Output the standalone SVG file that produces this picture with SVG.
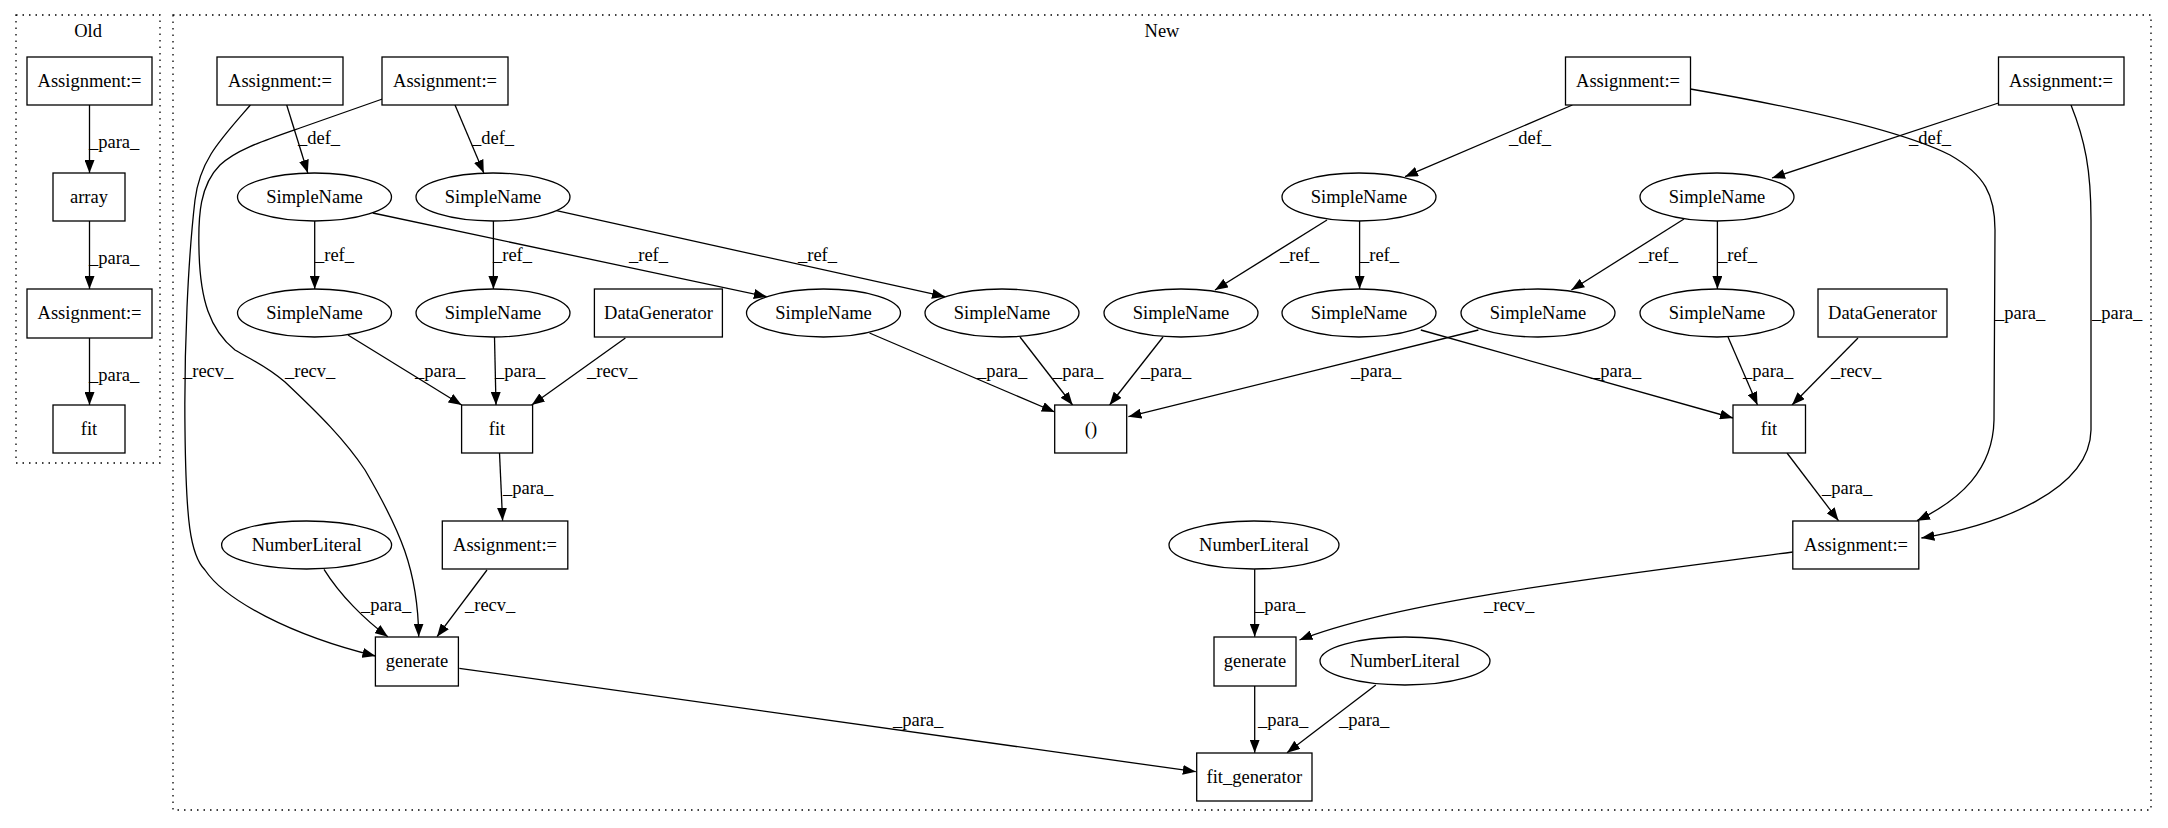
<svg xmlns="http://www.w3.org/2000/svg" width="2168" height="828" viewBox="0 0 2168 828">
<defs>
<marker id="ah" viewBox="0 0 13 10" refX="13" refY="5" markerWidth="13" markerHeight="10" markerUnits="userSpaceOnUse" orient="auto">
<path d="M0,0 L13,5 L0,10 z" fill="#000"/>
</marker>
<style>
.cl{fill:none;stroke:#000;stroke-width:1.3;stroke-dasharray:1.5,5}
.n rect,.n ellipse{fill:#fff;stroke:#000;stroke-width:1.3}
text{font-family:"Liberation Serif","Times New Roman",serif;font-size:18.5px;fill:#000}
.n text{text-anchor:middle}
#edges path{fill:none;stroke:#000;stroke-width:1.3;marker-end:url(#ah)}
</style>
</defs>
<rect width="2168" height="828" fill="#fff"/>
<g id="cluster_old"><rect class="cl" x="16" y="15" width="144" height="448"/><text x="88" y="37" text-anchor="middle">Old</text></g>
<g id="cluster_new"><rect class="cl" x="173" y="15" width="1978" height="795"/><text x="1162" y="37" text-anchor="middle">New</text></g>
<g id="edges">
<path d="M89.5,105 L89.5,173"/>
<path d="M89.5,221 L89.5,289"/>
<path d="M89.5,338 L89.5,405"/>
<path d="M286.7,105 L307.8,173"/>
<path d="M455,105 L483.8,173"/>
<path d="M314.7,221 L314.7,289"/>
<path d="M493.4,221 L493.4,289"/>
<path d="M372.8,213 L766.8,296.7"/>
<path d="M556.5,210.7 L945,296.7"/>
<path d="M348,335 L461.6,405"/>
<path d="M494.5,337 L496,405"/>
<path d="M625.4,338 L531.7,405"/>
<path d="M499.5,453 L502.6,520.7"/>
<path d="M324,569.3 C340,595 365,620 387.9,636.7"/>
<path d="M487,570 L437,636.7"/>
<path d="M250.4,105 C220,140 200,160 195,200 C188,260 184,350 185,430 C186,520 190,555 205,570 C225,600 290,635 375.4,656"/>
<path d="M382.4,99 L300,128 C260,142 236,150 220,165 C200,185 198,215 199,250 C200,300 210,330 235,350 C255,362 265,365 285,382 C320,415 345,440 365,470 C400,530 418,570 418.7,636.7"/>
<path d="M459.3,668.3 L1195.8,771.7"/>
<path d="M869.5,333 L1054.7,412"/>
<path d="M1020,337 L1072.6,405"/>
<path d="M1163,337 L1109.6,405"/>
<path d="M1478.4,330 L1128.4,416.7"/>
<path d="M1572.4,105 L1405,176.7"/>
<path d="M1327,220 L1215,290"/>
<path d="M1359.6,221 L1359.6,289"/>
<path d="M1998.5,103 L1772,178"/>
<path d="M1684,219 L1571.4,290"/>
<path d="M1717.4,221 L1717.4,289"/>
<path d="M1420.8,330 L1733,418"/>
<path d="M1728,337 L1757.5,405"/>
<path d="M1858,338 L1792,405"/>
<path d="M1787,453 L1838.5,520.7"/>
<path d="M1690.4,89 C1800,108 1900,130 1950,155 C1985,175 1995,195 1995,230 L1994,420 C1993,470 1960,500 1917,520.7"/>
<path d="M2071,105 C2085,140 2091,170 2091,220 L2091,430 C2090,490 2000,525 1921.4,538"/>
<path d="M1254.7,569.3 L1254.7,636.7"/>
<path d="M1792.8,552 C1620,575 1400,600 1299.5,640"/>
<path d="M1254.7,685.7 L1254.7,752.7"/>
<path d="M1375.8,685 L1287,752.7"/>
</g>
<g id="edge_labels">
<text x="89" y="148">_para_</text>
<text x="89" y="264">_para_</text>
<text x="89" y="381">_para_</text>
<text x="298" y="144">_def_</text>
<text x="472" y="144">_def_</text>
<text x="1509" y="144">_def_</text>
<text x="1909" y="144">_def_</text>
<text x="315" y="261">_ref_</text>
<text x="493" y="261">_ref_</text>
<text x="629" y="261">_ref_</text>
<text x="798" y="261">_ref_</text>
<text x="1280" y="261">_ref_</text>
<text x="1360" y="261">_ref_</text>
<text x="1639" y="261">_ref_</text>
<text x="1718" y="261">_ref_</text>
<text x="183" y="377">_recv_</text>
<text x="285" y="377">_recv_</text>
<text x="415" y="377">_para_</text>
<text x="495" y="377">_para_</text>
<text x="587" y="377">_recv_</text>
<text x="977" y="377">_para_</text>
<text x="1053" y="377">_para_</text>
<text x="1141" y="377">_para_</text>
<text x="1351" y="377">_para_</text>
<text x="1591" y="377">_para_</text>
<text x="1743" y="377">_para_</text>
<text x="1831" y="377">_recv_</text>
<text x="1995" y="319">_para_</text>
<text x="2092" y="319">_para_</text>
<text x="503" y="494">_para_</text>
<text x="1822" y="494">_para_</text>
<text x="361" y="611">_para_</text>
<text x="465" y="611">_recv_</text>
<text x="1255" y="611">_para_</text>
<text x="1484" y="611">_recv_</text>
<text x="893" y="726">_para_</text>
<text x="1258" y="726">_para_</text>
<text x="1339" y="726">_para_</text>
</g>
<g id="o_assign1" class="n"><rect x="27" y="57" width="125" height="48"/><text x="89.5" y="87">Assignment:=</text></g>
<g id="o_array" class="n"><rect x="53" y="173" width="72" height="48"/><text x="89" y="203">array</text></g>
<g id="o_assign2" class="n"><rect x="27" y="289" width="125" height="49"/><text x="89.5" y="319">Assignment:=</text></g>
<g id="o_fit" class="n"><rect x="53" y="405" width="72" height="48"/><text x="89" y="435">fit</text></g>
<g id="a1" class="n"><rect x="217" y="57" width="126" height="48"/><text x="280" y="87">Assignment:=</text></g>
<g id="a2" class="n"><rect x="382" y="57" width="126" height="48"/><text x="445" y="87">Assignment:=</text></g>
<g id="a3" class="n"><rect x="1565.5" y="57" width="125" height="48"/><text x="1628" y="87">Assignment:=</text></g>
<g id="a4" class="n"><rect x="1998.5" y="57" width="125.5" height="48"/><text x="2061" y="87">Assignment:=</text></g>
<g id="s1" class="n"><ellipse cx="314.5" cy="197" rx="77" ry="24"/><text x="314.5" y="203">SimpleName</text></g>
<g id="s2" class="n"><ellipse cx="493" cy="197" rx="77" ry="24"/><text x="493" y="203">SimpleName</text></g>
<g id="s7" class="n"><ellipse cx="1359" cy="197" rx="77" ry="24"/><text x="1359" y="203">SimpleName</text></g>
<g id="s10" class="n"><ellipse cx="1717" cy="197" rx="77" ry="24"/><text x="1717" y="203">SimpleName</text></g>
<g id="s3" class="n"><ellipse cx="314.5" cy="313" rx="77" ry="24"/><text x="314.5" y="319">SimpleName</text></g>
<g id="s4" class="n"><ellipse cx="493" cy="313" rx="77" ry="24"/><text x="493" y="319">SimpleName</text></g>
<g id="dg1" class="n"><rect x="594.4" y="289" width="128" height="48"/><text x="658.5" y="319">DataGenerator</text></g>
<g id="s5" class="n"><ellipse cx="823.5" cy="313" rx="77" ry="24"/><text x="823.5" y="319">SimpleName</text></g>
<g id="s6" class="n"><ellipse cx="1002" cy="313" rx="77" ry="24"/><text x="1002" y="319">SimpleName</text></g>
<g id="s8" class="n"><ellipse cx="1181" cy="313" rx="77" ry="24"/><text x="1181" y="319">SimpleName</text></g>
<g id="s9" class="n"><ellipse cx="1359" cy="313" rx="77" ry="24"/><text x="1359" y="319">SimpleName</text></g>
<g id="s11" class="n"><ellipse cx="1538" cy="313" rx="77" ry="24"/><text x="1538" y="319">SimpleName</text></g>
<g id="s12" class="n"><ellipse cx="1717" cy="313" rx="77" ry="24"/><text x="1717" y="319">SimpleName</text></g>
<g id="dg2" class="n"><rect x="1818" y="289" width="129" height="48"/><text x="1882.5" y="319">DataGenerator</text></g>
<g id="f1" class="n"><rect x="461.6" y="405" width="71" height="48"/><text x="497" y="435">fit</text></g>
<g id="paren" class="n"><rect x="1054.7" y="405" width="72" height="48"/><text x="1091" y="435">()</text></g>
<g id="f2" class="n"><rect x="1733" y="405" width="72.5" height="48"/><text x="1769" y="435">fit</text></g>
<g id="n1" class="n"><ellipse cx="306.6" cy="545" rx="85" ry="24"/><text x="306.6" y="551">NumberLiteral</text></g>
<g id="a6" class="n"><rect x="442.3" y="521" width="125.5" height="48"/><text x="505" y="551">Assignment:=</text></g>
<g id="n2" class="n"><ellipse cx="1254" cy="545" rx="85" ry="24"/><text x="1254" y="551">NumberLiteral</text></g>
<g id="a5" class="n"><rect x="1792.8" y="521" width="126" height="48"/><text x="1856" y="551">Assignment:=</text></g>
<g id="g1" class="n"><rect x="375.4" y="637" width="83" height="49"/><text x="417" y="667">generate</text></g>
<g id="g2" class="n"><rect x="1214" y="637" width="82" height="49"/><text x="1255" y="667">generate</text></g>
<g id="n3" class="n"><ellipse cx="1405" cy="661" rx="85" ry="24"/><text x="1405" y="667">NumberLiteral</text></g>
<g id="fg" class="n"><rect x="1196.7" y="753" width="115.3" height="48"/><text x="1254.3" y="783">fit_generator</text></g>
</svg>
